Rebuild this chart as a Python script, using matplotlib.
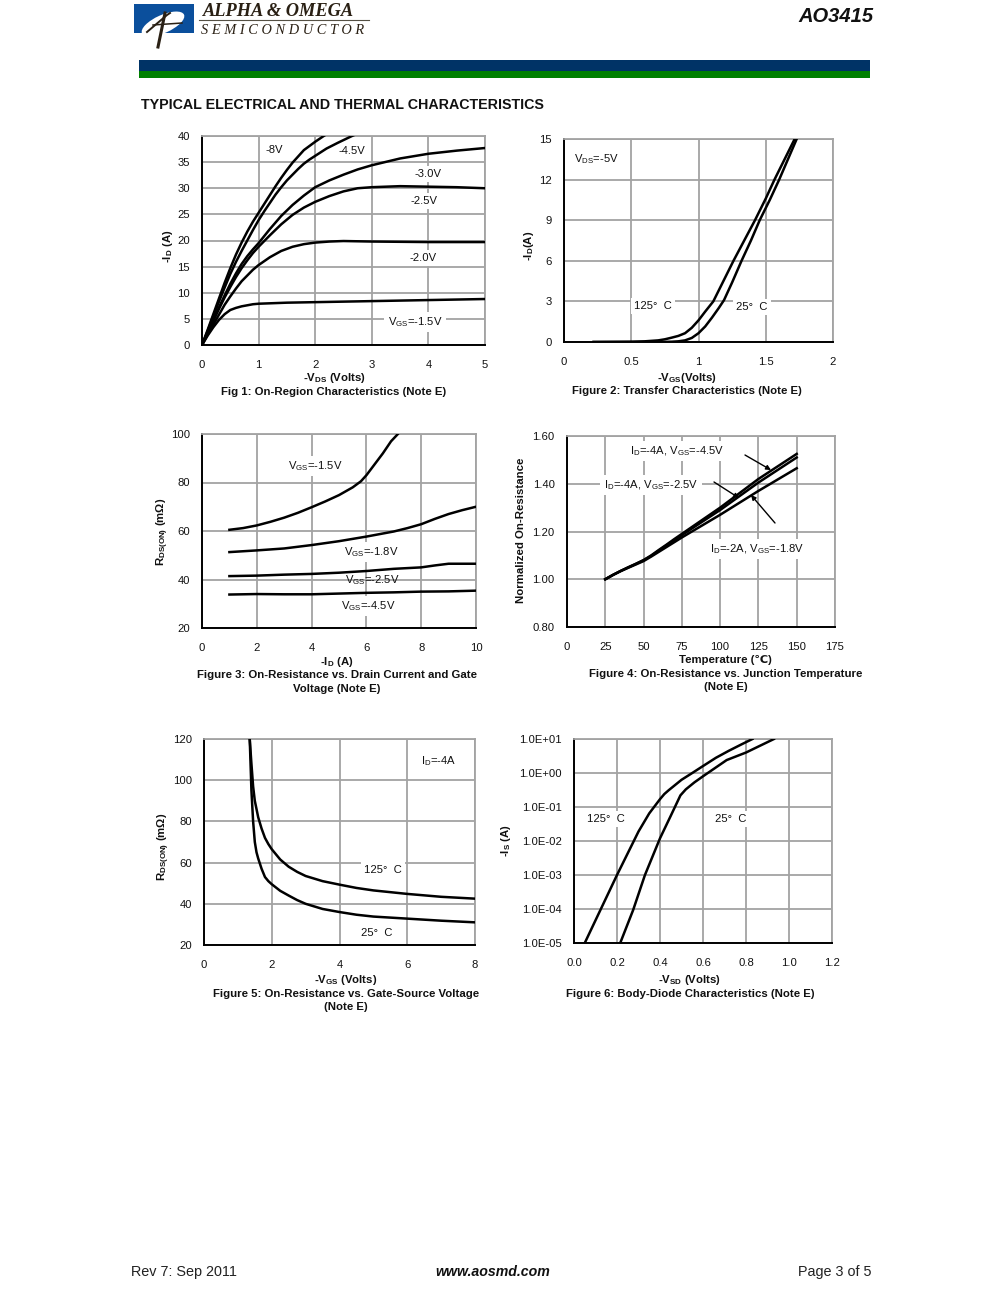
import matplotlib
matplotlib.use('Agg')
import matplotlib.pyplot as plt
from matplotlib.patches import Rectangle, Ellipse

plt.rcParams['font.family'] = ['Liberation Sans', 'DejaVu Sans']
plt.rcParams['mathtext.fontset'] = 'custom'
plt.rcParams['mathtext.rm'] = 'Liberation Sans'
plt.rcParams['mathtext.bf'] = 'Liberation Sans:bold'
plt.rcParams['mathtext.default'] = 'regular'

W, H = 991, 1293
GRAY = '#a3a3a3'

# fig 1 - on region
f1_8_x = [0, 0.1, 0.2, 0.3, 0.4, 0.5, 0.6, 0.7, 0.8, 0.9, 1, 1.1, 1.2, 1.3, 1.4, 1.5, 1.6, 1.7, 1.8, 1.9, 2, 2.15, 2.3]
f1_8_y = [0, 2.9, 5.9, 8.9, 11.9, 14.7, 17.3, 19.6, 21.7, 23.6, 25.3, 27, 28.7, 30.4, 32, 33.5, 34.9, 36.1, 37.3, 38.1, 38.9, 40, 41]
f1_45_x = [0, 0.1, 0.2, 0.3, 0.4, 0.5, 0.6, 0.7, 0.8, 0.9, 1, 1.1, 1.2, 1.3, 1.4, 1.5, 1.6, 1.7, 1.8, 1.9, 2, 2.2, 2.4, 2.65, 2.8]
f1_45_y = [0, 2.7, 5.5, 8.3, 11, 13.6, 15.9, 18, 20, 22, 23.9, 25.6, 27.2, 28.8, 30.2, 31.5, 32.6, 33.7, 34.7, 35.5, 36.2, 37.6, 38.7, 40, 40.7]
f1_30_x = [0, 0.1, 0.2, 0.3, 0.4, 0.5, 0.6, 0.7, 0.8, 0.9, 1, 1.2, 1.4, 1.6, 1.8, 2, 2.25, 2.5, 2.75, 3, 3.5, 4, 4.5, 5]
f1_30_y = [0, 2.4, 4.8, 7.2, 9.5, 11.7, 13.7, 15.5, 17, 18.3, 19.5, 22.2, 24.7, 26.8, 28.6, 30.2, 31.5, 32.6, 33.6, 34.4, 35.7, 36.6, 37.2, 37.7]
f1_25_x = [0, 0.1, 0.2, 0.3, 0.4, 0.5, 0.6, 0.7, 0.8, 0.9, 1, 1.2, 1.4, 1.6, 1.8, 2, 2.25, 2.5, 2.75, 3, 3.5, 4, 4.5, 5]
f1_25_y = [0, 2.3, 4.6, 6.9, 9.1, 11.1, 13, 14.7, 16.2, 17.6, 18.8, 21, 23.1, 24.9, 26.3, 27.4, 28.5, 29.4, 30, 30.2, 30.4, 30.3, 30.2, 30]
f1_20_x = [0, 0.1, 0.2, 0.3, 0.4, 0.5, 0.6, 0.7, 0.8, 0.9, 1, 1.2, 1.4, 1.6, 1.8, 2, 2.25, 2.5, 3, 4, 5]
f1_20_y = [0, 2, 3.9, 5.8, 7.7, 9.3, 10.8, 12.2, 13.3, 14.4, 15.3, 16.8, 18, 18.8, 19.3, 19.6, 19.8, 19.9, 19.8, 19.7, 19.7]
f1_15_x = [0, 0.1, 0.2, 0.3, 0.4, 0.5, 0.6, 0.7, 0.8, 0.9, 1, 1.25, 1.5, 2, 3, 4, 5]
f1_15_y = [0, 1.8, 3.4, 4.8, 5.9, 6.7, 7.1, 7.4, 7.6, 7.8, 7.9, 8, 8.1, 8.2, 8.4, 8.6, 8.8]

# fig 2 - transfer
f2_125_x = [0.22, 0.5, 0.6, 0.7, 0.75, 0.8, 0.85, 0.9, 0.95, 1, 1.05, 1.11, 1.15, 1.2, 1.26, 1.34, 1.42, 1.5, 1.565, 1.64, 1.715]
f2_125_y = [0, 0.02, 0.05, 0.12, 0.2, 0.32, 0.45, 0.65, 1.05, 1.6, 2.25, 3, 3.8, 4.8, 6, 7.5, 9, 10.6, 12, 13.5, 15]
f2_25_x = [0.22, 0.7, 0.8, 0.85, 0.9, 0.95, 1, 1.05, 1.1, 1.15, 1.19, 1.25, 1.32, 1.39, 1.455, 1.53, 1.6, 1.665, 1.73]
f2_25_y = [0, 0, 0.02, 0.05, 0.12, 0.3, 0.65, 1.15, 1.8, 2.5, 3.1, 4.4, 6, 7.5, 9, 10.5, 12, 13.5, 15]

# fig 3 - rds vs id
f3_15_x = [1, 1.5, 2, 2.5, 3, 3.5, 4, 4.5, 5, 5.5, 5.8, 6, 6.3, 6.6, 6.9, 7.15]
f3_15_y = [60.5, 61.2, 62.3, 63.8, 65.5, 67.5, 69.8, 72.2, 74.8, 78, 80.5, 83, 87.5, 92, 97, 100]
f3_18_x = [1, 2, 3, 4, 5, 6, 7, 7.5, 8, 8.5, 9, 9.5, 10]
f3_18_y = [51.3, 52, 52.8, 54.2, 55.8, 57.7, 59.8, 61.2, 62.8, 65, 67, 68.6, 70]
f3_25_x = [1, 2, 3, 4, 5, 6, 7, 8, 8.5, 9, 10]
f3_25_y = [41.4, 41.6, 42, 42.3, 42.8, 43.5, 44.4, 45, 45.8, 46.5, 46.5]
f3_45_x = [1, 2, 3, 4, 5, 6, 7, 8, 9, 10]
f3_45_y = [33.8, 34, 33.9, 33.9, 34.2, 34.5, 34.7, 35, 35.1, 35.4]

# fig 4 - normalized rds vs temperature
f4_x = [25, 30, 35, 40, 45, 50, 55, 60, 65, 70, 75, 100, 125, 150]
f4_45_y = [1, 1.018, 1.035, 1.05, 1.065, 1.08, 1.10, 1.123, 1.145, 1.168, 1.19, 1.30, 1.42, 1.525]
f4_25_y = [1, 1.018, 1.034, 1.05, 1.064, 1.08, 1.098, 1.12, 1.142, 1.163, 1.185, 1.29, 1.405, 1.51]
f4_18_y = [1, 1.018, 1.034, 1.048, 1.062, 1.076, 1.095, 1.115, 1.135, 1.155, 1.175, 1.27, 1.37, 1.465]

# fig 5 - rds vs vgs
f5_125_x = [1.35, 1.4, 1.45, 1.5, 1.6, 1.7, 1.8, 1.9, 2, 2.25, 2.5, 2.75, 3, 3.5, 4, 4.5, 5, 6, 7, 8]
f5_125_y = [120, 108, 97, 90, 82, 76.5, 72, 69, 66.5, 61.5, 58, 55.5, 53.5, 51, 49.3, 47.7, 46.5, 44.8, 43.4, 42.5]
f5_25_x = [1.35, 1.4, 1.45, 1.5, 1.55, 1.6, 1.7, 1.8, 1.9, 2, 2.25, 2.5, 2.75, 3, 3.5, 4, 4.5, 5, 6, 7, 8]
f5_25_y = [120, 95, 80, 70, 65, 62, 57, 53, 51, 49.5, 46.3, 44, 41.8, 40, 37.5, 36, 34.7, 33.8, 32.8, 31.8, 31]

# fig 6 - body diode
f6_125_x = [0.05, 0.2, 0.3, 0.35, 0.4, 0.42, 0.44, 0.5, 0.55, 0.6, 0.66, 0.72, 0.78, 0.83]
f6_125_y = [1e-5, 1e-3, 1.9e-2, 6.5e-2, 0.17, 0.24, 0.31, 0.63, 1.0, 1.6, 2.8, 4.5, 7, 10]
f6_25_x = [0.215, 0.275, 0.33, 0.4, 0.45, 0.495, 0.52, 0.56, 0.6, 0.71, 0.8, 0.93]
f6_25_y = [1e-5, 9.3e-5, 1e-3, 1.2e-2, 5.5e-2, 0.22, 0.33, 0.53, 0.8, 2.4, 4, 10]
f6_ticks = [1e-5, 1e-4, 1e-3, 1e-2, 1e-1, 1e0, 1e1]
f6_labels = ['1.0E-05', '1.0E-04', '1.0E-03', '1.0E-02', '1.0E-01', '1.0E+00', '1.0E+01']

fig = plt.figure(figsize=(W / 100, H / 100), dpi=100, facecolor='white')

# page layer in pixel coords, for the headers and captions
page = fig.add_axes([0, 0, 1, 1], zorder=5)
page.set_xlim(0, W)
page.set_ylim(H, 0)
page.axis('off')
page.patch.set_alpha(0)


def make_ax(x0, x1, y0, y1, xt, yt, xlab=None, ylab=None):
    ax = fig.add_axes([x0 / W, 1 - y1 / H, (x1 - x0) / W, (y1 - y0) / H])
    ax.set_xlim(xt[0], xt[-1])
    ax.set_ylim(yt[0], yt[-1])
    ax.set_xticks(xt)
    ax.set_yticks(yt)
    if xlab:
        ax.set_xticklabels(xlab)
    if ylab:
        ax.set_yticklabels(ylab)
    ax.tick_params(length=0, labelsize=8.1, colors='#111111')
    ax.tick_params(axis='x', pad=10.8)
    ax.tick_params(axis='y', pad=8.8)
    ax.grid(True, color=GRAY, lw=1.3)
    ax.set_axisbelow(True)
    for s in ['top', 'right']:
        ax.spines[s].set_color(GRAY)
        ax.spines[s].set_linewidth(1.3)
    for s in ['left', 'bottom']:
        ax.spines[s].set_color('black')
        ax.spines[s].set_linewidth(1.4)
    return ax


def curve(ax, x, y):
    ax.plot(x, y, color='black', lw=1.8, solid_joinstyle='round', zorder=3)


def note(ax, x, y, s, box=True):
    kw = {}
    if box:
        kw['bbox'] = dict(facecolor='white', edgecolor='none', pad=2.5)
    ax.text(x, y, s, transform=page.transData, fontsize=8.1, color='#111111',
            ha='center', va='center', zorder=2, **kw)


def bold(x, y, s, size=8.2, rot=0, ha='center'):
    page.text(x, y, s, fontsize=size, fontweight='bold', color='#111111',
              ha=ha, va='center', rotation=rot)


# header
blue = Rectangle((134, 4), 60, 29, facecolor='#0b4f9c', edgecolor='none')
page.add_patch(blue)
oval = Ellipse((163, 24), 46, 18, angle=-24, facecolor='white', edgecolor='none')
page.add_patch(oval)
oval.set_clip_path(blue)
page.plot([147, 167, 170], [32, 15, 13], color='#2a2014', lw=1.4)
page.plot([165, 158], [13, 47], color='#2a2014', lw=2.2)
page.plot([153, 182], [25, 23], color='#2a2014', lw=1.1)
page.text(203, 11.5, 'ALPHA & OMEGA', family='Liberation Serif', fontsize=13.2, fontweight='bold',
          fontstyle='italic', color='#2a2014', ha='left', va='center')
page.plot([199, 369], [20, 20], color='#555044', lw=0.8)
page.text(201, 30.5, 'S E M I C O N D U C T O R', family='Liberation Serif', fontsize=10.4,
          fontstyle='italic', color='#2a2014', ha='left', va='center')
page.text(874, 17, 'AO3415', fontsize=14.5, fontweight='bold', fontstyle='italic',
          color='#111111', ha='right', va='center')
page.add_patch(Rectangle((139, 60), 731, 11, facecolor='#003366', edgecolor='none'))
page.add_patch(Rectangle((139, 71), 731, 7, facecolor='#008000', edgecolor='none'))
bold(141, 105, 'TYPICAL ELECTRICAL AND THERMAL CHARACTERISTICS', size=10.3, ha='left')

# fig 1
ax1 = make_ax(202, 485, 136, 345, [0, 1, 2, 3, 4, 5], [0, 5, 10, 15, 20, 25, 30, 35, 40])
for x, y in [(f1_8_x, f1_8_y), (f1_45_x, f1_45_y), (f1_30_x, f1_30_y),
             (f1_25_x, f1_25_y), (f1_20_x, f1_20_y), (f1_15_x, f1_15_y)]:
    curve(ax1, x, y)
note(ax1, 274, 150, '-8V')
note(ax1, 352, 151, '-4.5V')
note(ax1, 428, 174, '-3.0V')
note(ax1, 424, 201, '-2.5V')
note(ax1, 423, 258, '-2.0V')
note(ax1, 415, 322, 'V$_{GS}$=-1.5V')
bold(334, 378, '-V$_{DS}$ (Volts)')
bold(334, 392, 'Fig 1: On-Region Characteristics (Note E)')
bold(168, 246, '-I$_{D}$ (A)', rot=90)

# fig 2
ax2 = make_ax(564, 833, 139, 342, [0, 0.5, 1, 1.5, 2], [0, 3, 6, 9, 12, 15],
              xlab=['0', '0.5', '1', '1.5', '2'])
curve(ax2, f2_125_x, f2_125_y)
curve(ax2, f2_25_x, f2_25_y)
note(ax2, 596, 159, 'V$_{DS}$=-5V')
note(ax2, 653, 306, '125°  C')
note(ax2, 752, 307, '25°  C')
bold(687, 378, '-V$_{GS}$(Volts)')
bold(687, 391, 'Figure 2: Transfer Characteristics (Note E)')
bold(529, 246, '-I$_{D}$(A)', rot=90)

# fig 3
ax3 = make_ax(202, 476, 434, 628, [0, 2, 4, 6, 8, 10], [20, 40, 60, 80, 100])
for x, y in [(f3_15_x, f3_15_y), (f3_18_x, f3_18_y), (f3_25_x, f3_25_y), (f3_45_x, f3_45_y)]:
    curve(ax3, x, y)
note(ax3, 315, 466, 'V$_{GS}$=-1.5V')
note(ax3, 371, 552, 'V$_{GS}$=-1.8V')
note(ax3, 372, 580, 'V$_{GS}$=-2.5V', box=False)
note(ax3, 368, 606, 'V$_{GS}$=-4.5V')
bold(337, 662, '-I$_{D}$ (A)')
bold(337, 675, 'Figure 3: On-Resistance vs. Drain Current and Gate')
bold(337, 689, 'Voltage (Note E)')
bold(163, 532, 'R$_{DS(ON)}$ (mΩ)', rot=90)

# fig 4
ax4 = make_ax(567, 835, 436, 627, [0, 25, 50, 75, 100, 125, 150, 175],
              [0.8, 1.0, 1.2, 1.4, 1.6], ylab=['0.80', '1.00', '1.20', '1.40', '1.60'])
curve(ax4, f4_x, f4_45_y)
curve(ax4, f4_x, f4_25_y)
curve(ax4, f4_x, f4_18_y)
note(ax4, 677, 451, 'I$_{D}$=-4A, V$_{GS}$=-4.5V')
note(ax4, 651, 485, 'I$_{D}$=-4A, V$_{GS}$=-2.5V')
note(ax4, 757, 549, 'I$_{D}$=-2A, V$_{GS}$=-1.8V')
for start, end in [((745, 455), (771, 470)), ((714, 482), (739, 498)), ((775, 523), (751, 495))]:
    ax4.annotate('', xy=end, xytext=start, xycoords=page.transData, textcoords=page.transData,
                 arrowprops=dict(arrowstyle='-|>', color='black', lw=1.0, mutation_scale=7,
                                 shrinkA=0, shrinkB=0), zorder=4)
bold(725, 660, 'Temperature (℃)')
bold(726, 674, 'Figure 4: On-Resistance vs. Junction Temperature')
bold(726, 687, '(Note E)')
bold(521, 530, 'Normalized On-Resistance', rot=90)

# fig 5
ax5 = make_ax(204, 475, 739, 945, [0, 2, 4, 6, 8], [20, 40, 60, 80, 100, 120])
curve(ax5, f5_125_x, f5_125_y)
curve(ax5, f5_25_x, f5_25_y)
note(ax5, 439, 761, 'I$_{D}$=-4A')
note(ax5, 383, 870, '125°  C')
note(ax5, 377, 933, '25°  C')
bold(346, 980, '-V$_{GS}$ (Volts)')
bold(346, 994, 'Figure 5: On-Resistance vs. Gate-Source Voltage')
bold(346, 1007, '(Note E)')
bold(164, 847, 'R$_{DS(ON)}$ (mΩ)', rot=90)

# fig 6
ax6 = make_ax(574, 832, 739, 943, [0, 0.2, 0.4, 0.6, 0.8, 1.0, 1.2], [1e-5, 1e1],
              xlab=['0.0', '0.2', '0.4', '0.6', '0.8', '1.0', '1.2'])
ax6.set_yscale('log')
ax6.set_ylim(1e-5, 1e1)
ax6.set_yticks(f6_ticks)
ax6.set_yticklabels(f6_labels)
ax6.minorticks_off()
curve(ax6, f6_125_x, f6_125_y)
curve(ax6, f6_25_x, f6_25_y)
note(ax6, 606, 819, '125°  C')
note(ax6, 731, 819, '25°  C')
bold(689, 980, '-V$_{SD}$ (Volts)')
bold(690, 994, 'Figure 6: Body-Diode Characteristics (Note E)')
bold(506, 841, '-I$_{S}$ (A)', rot=90)

# footer
page.text(131, 1272, 'Rev 7: Sep 2011', fontsize=10.4, color='#222222', ha='left', va='center')
page.text(493, 1272, 'www.aosmd.com', fontsize=10.2, fontweight='bold', fontstyle='italic',
          color='#111111', ha='center', va='center')
page.text(871, 1272, 'Page 3 of 5', fontsize=10.4, color='#222222', ha='right', va='center')

fig.savefig('out.png', dpi=100)
